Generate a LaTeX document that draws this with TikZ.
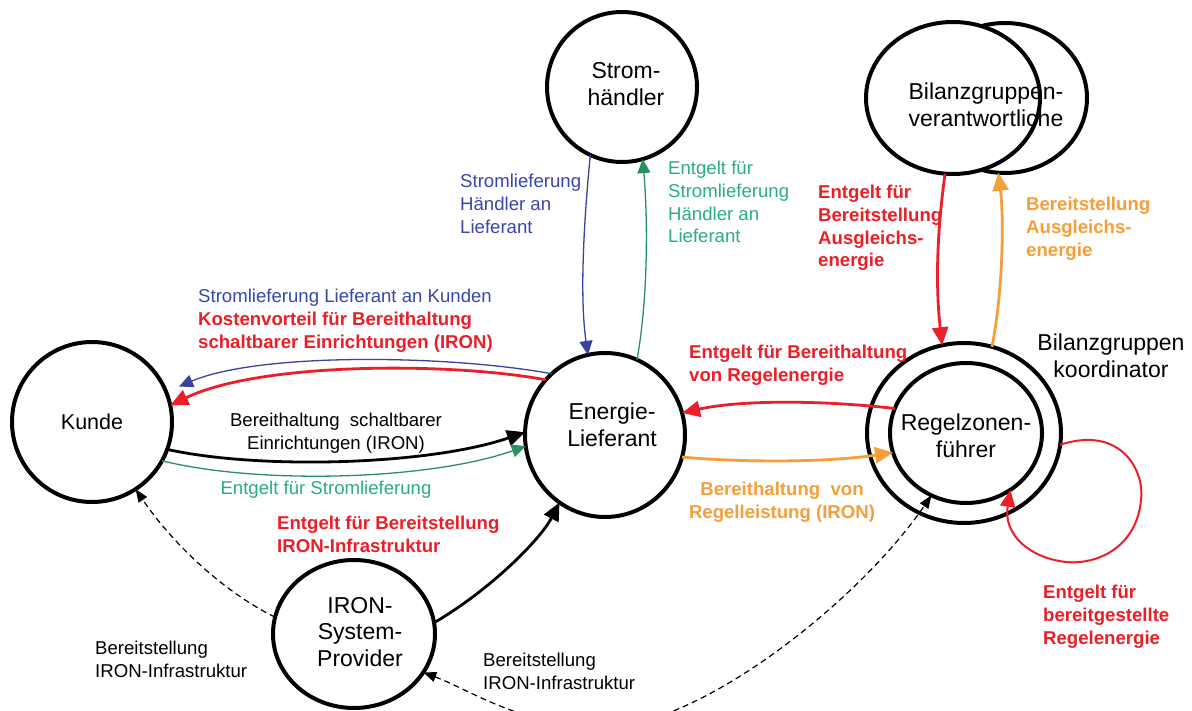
\documentclass[tikz,border=0pt]{standalone}
\usepackage{fontspec}
\setmainfont{Liberation Sans}
\usetikzlibrary{arrows.meta,shapes.geometric}

\definecolor{lineblue}{RGB}{58,66,160}
\definecolor{textblue}{RGB}{58,70,170}
\definecolor{linegreen}{RGB}{40,145,95}
\definecolor{textgreen}{RGB}{40,175,125}
\definecolor{accred}{RGB}{236,30,40}
\definecolor{accorange}{RGB}{246,158,56}

\tikzset{dashtip/.tip={Triangle[length=13pt,width=10pt]}}

\begin{document}
\begin{tikzpicture}[x=1pt,y=-1pt,
  actor/.style={ellipse,draw,line width=4pt,fill=white,inner sep=0pt,outer sep=0pt,
    align=center,font=\fontsize{23}{26.5}\selectfont},
  nodetext/.style={inner sep=0pt,align=center,font=\fontsize{23}{26.5}\selectfont},
  lbl/.style={inner sep=0pt,font=\fontsize{18.6}{22.7}\selectfont},
  lblbold/.style={lbl,font=\fontsize{18.6}{22.7}\selectfont\bfseries},
  flowthin/.style={line width=1.3pt,-{Triangle[length=14pt,width=13pt]}},
  flowthick/.style={line width=2.8pt,-{Triangle[length=18pt,width=16pt]}},
  loopline/.style={line width=2pt,-{Triangle[length=17pt,width=15pt]}},
  dashline/.style={line width=1.2pt,dash pattern=on 6pt off 4pt},
]
\useasboundingbox (0,0) rectangle (1192,711);
\fill[white] (0,0) rectangle (1192,711);
\clip (0,0) rectangle (1192,711);

% actors
\node[actor,minimum width=160pt,minimum height=160pt,font=\fontsize{21.5}{25}\selectfont] (K) at (92,422) {Kunde};
\node[actor,minimum width=150pt,minimum height=150pt] (S) at (622,87) {};
\node[nodetext] (St) at (626,84) {Strom-\\händler};
\node[actor,minimum width=160pt,minimum height=164pt] (E) at (605,435) {};
\node[nodetext] (Et) at (612,425) {Energie-\\Lieferant};
\node[actor,minimum width=164pt,minimum height=150pt] (BVb) at (1005,98) {};
\node[actor,minimum width=174pt,minimum height=152pt] (BV) at (953,98) {};
\node[nodetext] (BVt) at (986,105) {Bilanzgruppen-\\verantwortliche};
\node[actor,minimum width=194pt,minimum height=180pt] (Ro) at (964,433) {};
\node[actor,minimum width=152pt,minimum height=140pt] (Ri) at (966,433) {};
\node[nodetext] (Rt) at (966,436) {Regelzonen-\\führer};
\node[actor,minimum width=162pt,minimum height=148pt] (P) at (354,634) {};
\node[nodetext] (Pt) at (360,632) {IRON-\\System-\\Provider};
\node[nodetext,anchor=north] (BK) at (1111,334) {Bilanzgruppen\\koordinator};

% flows between Lieferant and Kunde
\draw[flowthin,lineblue,shorten >=14pt] (E.131.6) .. controls (450,355) and (260,352) .. (K.22);
\draw[flowthick,accred] (E.137.6) .. controls (450,362) and (260,362) .. (K.12);
\draw[flowthick,black] (K.-20) .. controls (260,470) and (430,465) .. (E.178);
\draw[flowthin,linegreen] (K.-29) .. controls (260,485) and (430,480) .. (E.188);

% flows between Lieferant and Stromhaendler
\draw[flowthin,lineblue] (S.245) .. controls (583,230) and (580,300) .. (E.102);
\draw[flowthin,linegreen] (E.67) .. controls (648,300) and (648,220) .. (S.286);

% flows between Lieferant and Regelzonenfuehrer
\draw[flowthick,accorange] (E.-16) .. controls (750,463) and (830,462) .. (Ri.195);
\draw[flowthick,accred] (Ri.161) .. controls (820,400) and (740,400) .. (E.16);

% flows between Bilanzgruppen
\draw[flowthick,accred] (BV.264) .. controls (936,240) and (936,290) .. (Ro.104);
\draw[flowthick,accorange] (Ro.72) .. controls (1003,290) and (1004,220) .. (BVb.265);
\draw[loopline,accred] (Ro.-7) .. controls (1120,425) and (1145,470) .. (1141,500)
  .. controls (1137,545) and (1100,565) .. (1066,562)
  .. controls (1030,558) and (1003,535) .. (Ri.-52);

% IRON system provider
\draw[flowthick,black] (P.8) .. controls (490,590) and (540,540) .. (E.236);
\draw[dashline,-dashtip] (P.168) .. controls (220,590) and (170,540) .. (K.-57);
\draw[dashline,dashtip-dashtip] (P.-29) .. controls (470,690) and (520,725) .. (600,728)
  .. controls (700,728) and (860,600) .. (Ri.241);

% labels
\node[lbl,anchor=north west,align=left] (l1) at (198,289)
  {\textcolor{textblue}{Stromlieferung Lieferant an Kunden}\\
   \textcolor{accred}{\bfseries Kostenvorteil für Bereithaltung}\\
   \textcolor{accred}{\bfseries schaltbarer Einrichtungen (IRON)}};
\node[lbl,anchor=north,align=center] (l2) at (336,413) {Bereithaltung\ \ schaltbarer\\Einrichtungen (IRON)};
\node[lbl,anchor=north,text=textgreen] (l3) at (326,481) {Entgelt für Stromlieferung};
\node[lblbold,anchor=north west,align=left,text=accred] (l4) at (277,516) {Entgelt für Bereitstellung\\IRON-Infrastruktur};
\node[lbl,anchor=north west,align=left] (l5) at (95,641) {Bereitstellung\\IRON-Infrastruktur};
\node[lbl,anchor=north west,align=left] (l6) at (483,653) {Bereitstellung\\IRON-Infrastruktur};
\node[lbl,anchor=north west,align=left,text=textblue] (l7) at (460,174) {Stromlieferung\\Händler an\\Lieferant};
\node[lbl,anchor=north west,align=left,text=textgreen] (l8) at (668,161) {Entgelt für\\Stromlieferung\\Händler an\\Lieferant};
\node[lblbold,anchor=north west,align=left,text=accred] (l9) at (818,185) {Entgelt für\\Bereitstellung\\Ausgleichs-\\energie};
\node[lblbold,anchor=north west,align=left,text=accorange] (l10) at (1026,197) {Bereitstellung\\Ausgleichs-\\energie};
\node[lblbold,anchor=north west,align=left,text=accred] (l11) at (689,345) {Entgelt für Bereithaltung\\von Regelenergie};
\node[lblbold,anchor=north,align=center,text=accorange] (l12) at (782,482) {Bereithaltung\ \ von\\Regelleistung (IRON)};
\node[lblbold,anchor=north west,align=left,text=accred] (l13) at (1043,585) {Entgelt für\\bereitgestellte\\Regelenergie};
\end{tikzpicture}
\end{document}
